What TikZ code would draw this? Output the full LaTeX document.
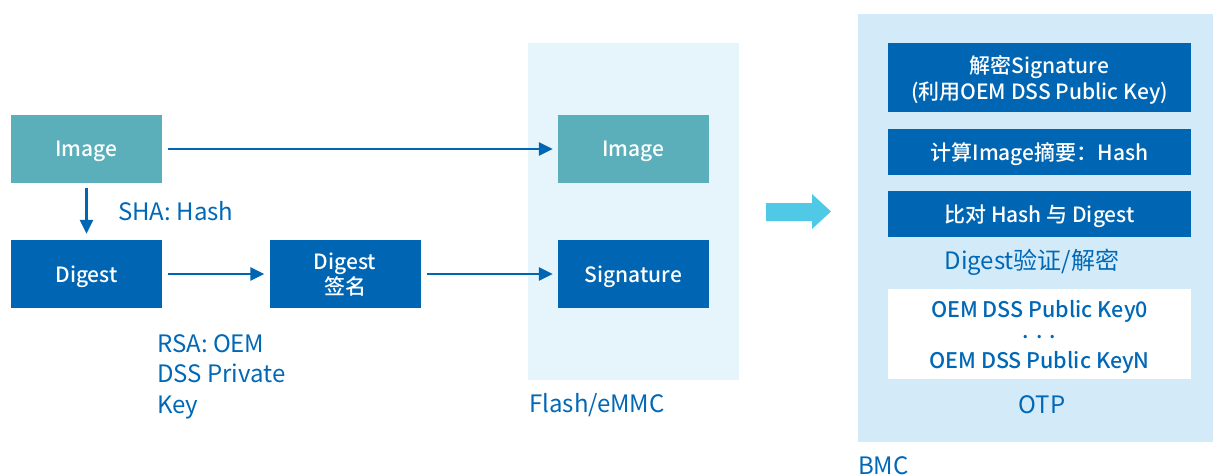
\documentclass[tikz,border=0pt]{standalone}
\usepackage{fontspec}
\setmainfont{Noto Sans CJK SC}[BoldFont={Noto Sans CJK SC Medium}]
\usetikzlibrary{arrows.meta}
\definecolor{teal1}{HTML}{5BAFBA}
\definecolor{blue1}{HTML}{0066B3}
\definecolor{flashbg}{HTML}{E6F4FC}
\definecolor{bmcbg}{HTML}{D3EBF9}
\definecolor{bigarrow}{HTML}{4FC9E6}
\definecolor{txtblue}{HTML}{0068B7}
\begin{document}
\begin{tikzpicture}[x=1pt,y=-1pt,
  box/.style={inner sep=0pt, align=center, text=white, text depth=0pt, font=\fontsize{21}{25}\selectfont\bfseries},
  lbox/.style={box, minimum width=151pt, minimum height=68pt},
  rbox/.style={box, fill=blue1, minimum width=303pt},
  panel/.style={inner sep=0pt, anchor=north west},
  lbl/.style={inner sep=0pt, text=txtblue, font=\fontsize{24}{30.5}\selectfont, align=left},
  arr/.style={draw=blue1, line width=2.6pt, -{Triangle[length=14pt,width=13pt]}, shorten <=6pt, shorten >=5pt}]
\useasboundingbox (0,0) rectangle (1213,476);
% panels
\node[panel, fill=flashbg, minimum width=211pt, minimum height=337pt] (flash) at (528,43) {};
\node[panel, fill=bmcbg, minimum width=355pt, minimum height=428pt] (bmc) at (858,14) {};
% left boxes
\node[lbox, fill=teal1] (img1) at (86.5,149) {Image};
\node[lbox, fill=blue1] (dig1) at (86.5,274) {Digest};
\node[lbox, fill=blue1] (sig1) at (345,274) {Digest\\签名};
\node[lbox, fill=teal1] (img2) at (633.5,149) {Image};
\node[lbox, fill=blue1] (sig2) at (633.5,274) {Signature};
% connectors
\draw[arr] (img1) -- (img2);
\draw[arr, shorten <=5pt, shorten >=6pt] (img1) -- (dig1);
\draw[arr] (dig1) -- (sig1);
\draw[arr] (sig1) -- (sig2);
% labels
\node[lbl, anchor=west] (sha) at (118,211) {SHA: Hash};
\node[lbl, anchor=north west] (rsa) at (157,334) {RSA: OEM\\DSS Private\\Key};
\node[lbl, anchor=west] (flashlbl) at (529,405) {Flash/eMMC};
% big arrow
\fill[bigarrow] (766,203) -- (812,203) -- (812,194) -- (831,211.5) -- (812,229) -- (812,221) -- (766,221) -- cycle;
% BMC content
\node[rbox, minimum height=69pt, font=\fontsize{21}{26}\selectfont\bfseries] (dec) at (1039.5,77.5) {解密Signature\\(利用OEM DSS Public Key)};
\node[rbox, minimum height=46pt] (calc) at (1039.5,152) {计算Image摘要：Hash};
\node[rbox, minimum height=46pt] (cmp) at (1039.5,214) {比对 Hash 与 Digest};
\node[lbl, anchor=center] (verify) at (1032,262) {Digest验证/解密};
\node[box, fill=white, text=txtblue, minimum width=303pt, minimum height=90pt, font=\fontsize{21.5}{25.5}\selectfont\bfseries] (otpbox) at (1039.5,334) {OEM DSS Public Key0\\[-4.5pt]{.\,\,.\,\,.}\\[4.5pt]OEM DSS Public KeyN};
\node[lbl, anchor=center] (otp) at (1042,405) {OTP};
\node[lbl, anchor=west] (bmclbl) at (858,466) {BMC};
\end{tikzpicture}
\end{document}
